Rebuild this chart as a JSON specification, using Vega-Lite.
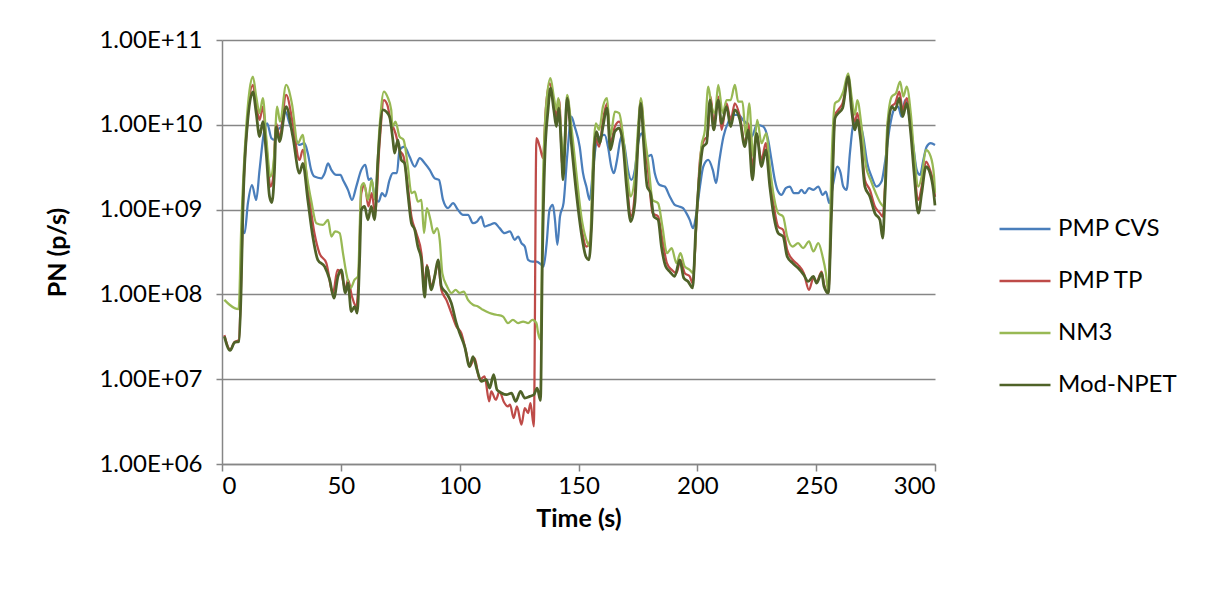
{
"$schema": "https://vega.github.io/schema/vega-lite/v6.json",
"width": 713, "height": 424,
"autosize": "none",
"padding": {"left": 222, "top": 40, "right": 273, "bottom": 125},
"background": "white",
"config": {"font": "Lato", "view": {"stroke": null}},
"datasets": {
"cvs": [{"t":8.1,"v":6.04e8},{"t":9.5,"v":5.27e8},{"t":10.9,"v":1.19e9},{"t":12.6,"v":1.95e9},{"t":14.4,"v":1.3e9},{"t":15.8,"v":2.94e9},{"t":17.6,"v":7.94e9},{"t":19,"v":1.04e10},{"t":20.8,"v":6.95e9},{"t":22.1,"v":6.64e9},{"t":23.5,"v":8.71e9},{"t":24.9,"v":9.53e9},{"t":26.7,"v":1.43e10},{"t":28.4,"v":1.04e10},{"t":30.5,"v":7.26e9},{"t":32.6,"v":5.79e9},{"t":34.7,"v":6.07e9},{"t":36.1,"v":4.62e9},{"t":37.5,"v":2.94e9},{"t":38.9,"v":2.45e9},{"t":41.8,"v":2.34e9},{"t":43.2,"v":2.69e9},{"t":44.6,"v":3.52e9},{"t":46,"v":2.94e9},{"t":48.1,"v":2.56e9},{"t":49.9,"v":2.56e9},{"t":50.9,"v":2.24e9},{"t":53,"v":1.71e9},{"t":54.7,"v":1.3e9},{"t":56.5,"v":1.87e9},{"t":58.6,"v":2.94e9},{"t":60.3,"v":3.37e9},{"t":61.7,"v":2.24e9},{"t":62.8,"v":2.34e9},{"t":64.2,"v":1.43e9},{"t":65.9,"v":1.24e9},{"t":67.3,"v":1.56e9},{"t":68.7,"v":1.43e9},{"t":70.5,"v":2.24e9},{"t":71.9,"v":2.69e9},{"t":73.6,"v":2.69e9},{"t":74.7,"v":5.06e9},{"t":76.8,"v":5.53e9},{"t":78.9,"v":4.22e9},{"t":81.1,"v":3.21e9},{"t":83.2,"v":4.04e9},{"t":85.3,"v":3.52e9},{"t":87.4,"v":2.94e9},{"t":89.5,"v":2.34e9},{"t":91.3,"v":2.24e9},{"t":93,"v":1.3e9},{"t":95.1,"v":1.04e9},{"t":97.2,"v":1.19e9},{"t":99.3,"v":9.93e8},{"t":101.4,"v":8.67e8},{"t":103.5,"v":8.67e8},{"t":105.6,"v":6.92e8},{"t":107.3,"v":7.23e8},{"t":109.1,"v":8.28e8},{"t":110.5,"v":6.31e8},{"t":112.6,"v":6.61e8},{"t":114.7,"v":6.92e8},{"t":116.8,"v":6.04e8},{"t":118.9,"v":5.27e8},{"t":121.1,"v":5.52e8},{"t":123.2,"v":4.4e8},{"t":124.6,"v":4.81e8},{"t":126,"v":4.02e8},{"t":127.4,"v":3.67e8},{"t":128.8,"v":2.56e8},{"t":130.6,"v":2.44e8},{"t":132.3,"v":2.44e8},{"t":134.4,"v":2.23e8},{"t":135.3,"v":2.13e8},{"t":136.6,"v":4.02e8},{"t":137.8,"v":9.93e8},{"t":139.2,"v":1.14e9},{"t":140.1,"v":7.57e8},{"t":141.1,"v":3.85e8},{"t":142.2,"v":8.28e8},{"t":143.7,"v":1.19e9},{"t":145.3,"v":4.47e9},{"t":147,"v":1.25e10},{"t":148.4,"v":9.53e9},{"t":150.5,"v":5.53e9},{"t":151.9,"v":2.69e9},{"t":153.3,"v":1.87e9},{"t":154.7,"v":1.3e9},{"t":156.1,"v":2.94e9},{"t":157.5,"v":6.07e9},{"t":159.2,"v":7.26e9},{"t":161,"v":7.6e9},{"t":162.4,"v":5.53e9},{"t":163.8,"v":3.21e9},{"t":164.9,"v":2.69e9},{"t":166.2,"v":3.85e9},{"t":168,"v":7.26e9},{"t":169.4,"v":5.53e9},{"t":170.8,"v":2.94e9},{"t":172.2,"v":2.24e9},{"t":173.7,"v":2.94e9},{"t":175.1,"v":6.07e9},{"t":176.5,"v":7.94e9},{"t":177.5,"v":6.64e9},{"t":178.9,"v":4.22e9},{"t":180.7,"v":4.42e9},{"t":182.1,"v":2.69e9},{"t":184.2,"v":1.95e9},{"t":186.3,"v":1.87e9},{"t":188.4,"v":1.43e9},{"t":190.5,"v":1.14e9},{"t":192.3,"v":1.09e9},{"t":194,"v":1.04e9},{"t":195.4,"v":9.08e8},{"t":196.8,"v":7.57e8},{"t":198.2,"v":6.04e8},{"t":199.6,"v":9.08e8},{"t":201.1,"v":1.87e9},{"t":202.5,"v":3.21e9},{"t":204.6,"v":3.85e9},{"t":206.5,"v":2.94e9},{"t":207.9,"v":2.05e9},{"t":209.3,"v":3.85e9},{"t":211,"v":7.26e9},{"t":213.1,"v":1.09e10},{"t":215.2,"v":1.31e10},{"t":217.4,"v":1.31e10},{"t":219.2,"v":1.14e10},{"t":221.1,"v":9.95e9},{"t":222.9,"v":7.26e9},{"t":225,"v":9.95e9},{"t":227.7,"v":9.53e9},{"t":229.8,"v":6.64e9},{"t":231.2,"v":3.85e9},{"t":232.6,"v":2.24e9},{"t":234,"v":1.63e9},{"t":235.4,"v":1.49e9},{"t":237.2,"v":1.79e9},{"t":238.9,"v":1.87e9},{"t":240.6,"v":1.56e9},{"t":242.4,"v":1.56e9},{"t":243.8,"v":1.71e9},{"t":245.2,"v":1.56e9},{"t":247,"v":1.79e9},{"t":248.8,"v":1.71e9},{"t":250.9,"v":1.87e9},{"t":252.7,"v":1.49e9},{"t":254.1,"v":1.63e9},{"t":255.5,"v":1.19e9},{"t":257.2,"v":2.05e9},{"t":258.9,"v":3.21e9},{"t":260.3,"v":2.69e9},{"t":261.4,"v":1.87e9},{"t":262.8,"v":1.71e9},{"t":264.2,"v":4.62e9},{"t":265.6,"v":9.95e9},{"t":267.7,"v":1.14e10},{"t":269.8,"v":7.26e9},{"t":271.5,"v":3.52e9},{"t":273.3,"v":2.45e9},{"t":275.4,"v":1.87e9},{"t":277.5,"v":2.14e9},{"t":278.9,"v":3.52e9},{"t":281,"v":9.53e9},{"t":282.7,"v":1.5e10},{"t":284.5,"v":1.64e10},{"t":285.9,"v":1.25e10},{"t":287.4,"v":1.96e10},{"t":289.2,"v":1.25e10},{"t":290.9,"v":5.53e9},{"t":292.3,"v":2.94e9},{"t":293.7,"v":2.56e9},{"t":295.1,"v":3.85e9},{"t":296.5,"v":5.53e9},{"t":298.2,"v":6.07e9},{"t":300,"v":5.79e9}],
"tp": [{"t":1,"v":3.31e7},{"t":3.4,"v":2.24e7},{"t":5.3,"v":2.75e7},{"t":7.1,"v":2.88e7},{"t":8,"v":1.26e8},{"t":8.8,"v":1.12e9},{"t":10.6,"v":1e10},{"t":13,"v":2.95e10},{"t":14.4,"v":1.71e10},{"t":15.8,"v":1.14e10},{"t":17.2,"v":1.64e10},{"t":18.6,"v":6.07e9},{"t":20.4,"v":1.87e9},{"t":21.4,"v":2.24e9},{"t":22.8,"v":1.04e10},{"t":24.2,"v":7.26e9},{"t":27,"v":2.25e10},{"t":29.8,"v":1.04e10},{"t":32.6,"v":3.85e9},{"t":34,"v":5.06e9},{"t":36.1,"v":1.87e9},{"t":38.9,"v":5.27e8},{"t":41,"v":3.07e8},{"t":43.9,"v":2.34e8},{"t":46.7,"v":1.04e8},{"t":48.6,"v":1.95e8},{"t":50.2,"v":1.78e8},{"t":51.9,"v":1.13e8},{"t":53,"v":1.49e8},{"t":54.7,"v":9.44e7},{"t":56.5,"v":7.19e7},{"t":57.5,"v":1.58e8},{"t":58.6,"v":1.56e9},{"t":60,"v":1.95e9},{"t":61.6,"v":1.09e9},{"t":63,"v":1.56e9},{"t":64.4,"v":9.08e8},{"t":66.3,"v":6.07e9},{"t":68.1,"v":1.96e10},{"t":69.6,"v":1.71e10},{"t":71.2,"v":1.04e10},{"t":71.9,"v":9.53e9},{"t":73,"v":7.94e9},{"t":74.7,"v":5.06e9},{"t":76.4,"v":4.22e9},{"t":78.2,"v":1.87e9},{"t":79.7,"v":8.28e8},{"t":81.8,"v":5.27e8},{"t":83.9,"v":3.07e8},{"t":85.3,"v":1.24e8},{"t":86.2,"v":2.23e8},{"t":88.1,"v":1.24e8},{"t":89.5,"v":1.63e8},{"t":90.9,"v":2.34e8},{"t":92.3,"v":1.13e8},{"t":94.4,"v":8.63e7},{"t":96.5,"v":6.03e7},{"t":98.6,"v":4.19e7},{"t":100.7,"v":3.5e7},{"t":102.8,"v":2.03e7},{"t":104.2,"v":1.41e7},{"t":106.3,"v":1.77e7},{"t":108.4,"v":9.86e6},{"t":110.5,"v":1.08e7},{"t":112.4,"v":5.47e6},{"t":113.3,"v":7.18e6},{"t":115.2,"v":5.73e6},{"t":116.8,"v":7.18e6},{"t":118.5,"v":5.47e6},{"t":120.3,"v":4.78e6},{"t":121.2,"v":5.01e6},{"t":122.7,"v":3.48e6},{"t":124.1,"v":4.78e6},{"t":126,"v":2.91e6},{"t":127.4,"v":4.57e6},{"t":128.8,"v":3.99e6},{"t":129.8,"v":5.24e6},{"t":131.2,"v":2.78e6},{"t":132.3,"v":6.95e9},{"t":133.7,"v":5.53e9},{"t":135.1,"v":4.04e9},{"t":136.2,"v":1.5e10},{"t":137.9,"v":3.09e10},{"t":139.6,"v":1.79e10},{"t":140.7,"v":1.25e10},{"t":141.9,"v":1.96e10},{"t":143.2,"v":3.21e9},{"t":144.4,"v":6.3e9},{"t":145.3,"v":2.15e10},{"t":147,"v":7.26e9},{"t":149.1,"v":1.87e9},{"t":151.2,"v":6.31e8},{"t":153.3,"v":3.67e8},{"t":155,"v":4.4e8},{"t":156.8,"v":7.26e9},{"t":158.7,"v":5.53e9},{"t":160.3,"v":1.14e10},{"t":162,"v":1.79e10},{"t":163.4,"v":6.07e9},{"t":165.3,"v":9.53e9},{"t":167.1,"v":1.09e10},{"t":168.8,"v":6.64e9},{"t":170.2,"v":2.45e9},{"t":172,"v":8.28e8},{"t":173.7,"v":1.56e9},{"t":175.1,"v":7.08e9},{"t":176.2,"v":1.96e10},{"t":177.9,"v":6.07e9},{"t":179.3,"v":2.81e9},{"t":181.2,"v":9.08e8},{"t":183.5,"v":8.28e8},{"t":185.3,"v":4.4e8},{"t":187.2,"v":2.34e8},{"t":189.2,"v":1.95e8},{"t":191.2,"v":1.78e8},{"t":192.9,"v":2.56e8},{"t":194.7,"v":1.78e8},{"t":196.8,"v":1.63e8},{"t":198,"v":1.36e8},{"t":199.7,"v":7.57e8},{"t":201.1,"v":3.85e9},{"t":202.8,"v":6.64e9},{"t":204.2,"v":7.26e9},{"t":205.6,"v":2.15e10},{"t":206.9,"v":1.04e10},{"t":208.8,"v":2.15e10},{"t":210.2,"v":8.71e9},{"t":212.3,"v":1.79e10},{"t":214,"v":1.14e10},{"t":215.8,"v":1.79e10},{"t":217.9,"v":1.25e10},{"t":220,"v":6.07e9},{"t":221.4,"v":1.04e10},{"t":223.2,"v":3.21e9},{"t":224.9,"v":7.94e9},{"t":227,"v":3.85e9},{"t":228.8,"v":6.07e9},{"t":230.5,"v":2.45e9},{"t":232.2,"v":1.09e9},{"t":234,"v":6.31e8},{"t":236.1,"v":5.77e8},{"t":237.8,"v":3.36e8},{"t":240.1,"v":2.56e8},{"t":242.4,"v":2.23e8},{"t":244.8,"v":1.78e8},{"t":247,"v":1.13e8},{"t":248.8,"v":1.55e8},{"t":250.2,"v":1.42e8},{"t":252.3,"v":1.86e8},{"t":253.3,"v":1.32e8},{"t":255.1,"v":1.04e8},{"t":256.5,"v":1.26e9},{"t":257.9,"v":1.31e10},{"t":259.3,"v":1.5e10},{"t":261.1,"v":1.79e10},{"t":263.5,"v":3.38e10},{"t":264.9,"v":1.64e10},{"t":266.3,"v":1.09e10},{"t":267.3,"v":1.37e10},{"t":268.7,"v":7.94e9},{"t":270.5,"v":2.24e9},{"t":272.6,"v":1.71e9},{"t":274.7,"v":1.09e9},{"t":276.8,"v":9.08e8},{"t":278,"v":8.28e8},{"t":279,"v":2e9},{"t":280.3,"v":1.14e10},{"t":281.8,"v":1.66e10},{"t":283.2,"v":1.79e10},{"t":285,"v":2.46e10},{"t":286.4,"v":1.5e10},{"t":288.1,"v":2.06e10},{"t":289.8,"v":9.53e9},{"t":291.2,"v":3.21e9},{"t":293,"v":1.3e9},{"t":294.4,"v":1.87e9},{"t":296.2,"v":3.68e9},{"t":297.9,"v":2.94e9},{"t":299.3,"v":2.05e9},{"t":300,"v":1.41e9}],
"nm3": [{"t":1,"v":8.63e7},{"t":3.2,"v":7.55e7},{"t":5.3,"v":6.89e7},{"t":7,"v":6.71e7},{"t":8.1,"v":6.31e8},{"t":10.2,"v":9.53e9},{"t":11.6,"v":2.58e10},{"t":13,"v":3.7e10},{"t":14.4,"v":2.15e10},{"t":15.8,"v":1.37e10},{"t":17.2,"v":2.06e10},{"t":18.6,"v":7.26e9},{"t":20.4,"v":2.45e9},{"t":21.8,"v":3.85e9},{"t":23.2,"v":1.64e10},{"t":24.4,"v":1.09e10},{"t":27,"v":2.95e10},{"t":29.4,"v":1.79e10},{"t":31.9,"v":6.07e9},{"t":34,"v":7.6e9},{"t":35.4,"v":2.94e9},{"t":37.5,"v":1.3e9},{"t":39.7,"v":6.92e8},{"t":42.5,"v":6.61e8},{"t":44.6,"v":7.57e8},{"t":46,"v":4.81e8},{"t":47.6,"v":5.52e8},{"t":49.5,"v":5.27e8},{"t":50.9,"v":3.07e8},{"t":52.3,"v":1.78e8},{"t":54.1,"v":1.19e8},{"t":55.8,"v":1.49e8},{"t":57.2,"v":1.63e8},{"t":58.6,"v":1.87e9},{"t":59.7,"v":2.05e9},{"t":61.4,"v":1.3e9},{"t":63,"v":2.24e9},{"t":64.4,"v":1.3e9},{"t":66.3,"v":9.53e9},{"t":68.1,"v":2.46e10},{"t":69.6,"v":2.15e10},{"t":71.2,"v":1.5e10},{"t":71.7,"v":9.53e9},{"t":73,"v":1.09e10},{"t":74.7,"v":7.26e9},{"t":76.4,"v":6.64e9},{"t":78.2,"v":3.21e9},{"t":79.7,"v":1.56e9},{"t":81.1,"v":1.63e9},{"t":82.4,"v":1.24e9},{"t":83.9,"v":1.3e9},{"t":85,"v":5.27e8},{"t":86.2,"v":1.04e9},{"t":87.7,"v":7.57e8},{"t":89,"v":5.27e8},{"t":90.5,"v":6.04e8},{"t":91.6,"v":4.4e8},{"t":92.7,"v":1.78e8},{"t":94.7,"v":1.24e8},{"t":96.5,"v":1.04e8},{"t":98.3,"v":1.13e8},{"t":100,"v":1.04e8},{"t":101.7,"v":1.08e8},{"t":103.5,"v":8.63e7},{"t":105.6,"v":7.55e7},{"t":107.7,"v":7.21e7},{"t":109.8,"v":6.58e7},{"t":112.6,"v":6.03e7},{"t":115.4,"v":5.75e7},{"t":118.2,"v":5.5e7},{"t":120.3,"v":4.59e7},{"t":122.4,"v":5.01e7},{"t":124.6,"v":4.59e7},{"t":126.7,"v":4.79e7},{"t":128.8,"v":4.59e7},{"t":130.6,"v":5.01e7},{"t":132.3,"v":4.59e7},{"t":133,"v":3.5e7},{"t":134,"v":2.92e7},{"t":135.1,"v":2.45e9},{"t":136.6,"v":1.96e10},{"t":138.2,"v":3.54e10},{"t":139.6,"v":2.15e10},{"t":140.7,"v":1.5e10},{"t":141.5,"v":2.06e10},{"t":142.8,"v":7.26e9},{"t":143.7,"v":3.85e9},{"t":145.2,"v":2.25e10},{"t":147,"v":9.53e9},{"t":149.1,"v":2.69e9},{"t":151.2,"v":8.28e8},{"t":153.3,"v":4.4e8},{"t":154.7,"v":3.67e8},{"t":156.1,"v":3.85e9},{"t":157.3,"v":1.04e10},{"t":158.7,"v":8.71e9},{"t":160.3,"v":1.64e10},{"t":162,"v":2.06e10},{"t":163.4,"v":7.26e9},{"t":165.3,"v":1.43e10},{"t":167.1,"v":1.37e10},{"t":168.8,"v":7.26e9},{"t":170.2,"v":3.21e9},{"t":171.9,"v":1.43e9},{"t":173.7,"v":2.45e9},{"t":175.1,"v":9.53e9},{"t":176.2,"v":2.06e10},{"t":177.9,"v":7.26e9},{"t":179.3,"v":3.68e9},{"t":181.2,"v":1.3e9},{"t":183.5,"v":1.19e9},{"t":185.3,"v":6.31e8},{"t":187.2,"v":3.07e8},{"t":189.2,"v":3.52e8},{"t":191.2,"v":2.34e8},{"t":192.9,"v":3.07e8},{"t":194.7,"v":2.13e8},{"t":196.8,"v":1.95e8},{"t":198.2,"v":1.78e8},{"t":199.9,"v":9.93e8},{"t":201.7,"v":5.53e9},{"t":203.2,"v":8.71e9},{"t":204.6,"v":2.82e10},{"t":206,"v":1.64e10},{"t":207.4,"v":1.37e10},{"t":208.8,"v":2.95e10},{"t":210.7,"v":1.37e10},{"t":212.3,"v":1.96e10},{"t":214,"v":1.96e10},{"t":215.8,"v":2.95e10},{"t":217.2,"v":1.87e10},{"t":219,"v":1.87e10},{"t":220.4,"v":7.26e9},{"t":221.8,"v":1.79e10},{"t":223.5,"v":4.22e9},{"t":225.2,"v":1.14e10},{"t":227,"v":6.07e9},{"t":229,"v":7.94e9},{"t":230.5,"v":3.21e9},{"t":232.2,"v":1.43e9},{"t":234,"v":9.08e8},{"t":236.1,"v":8.28e8},{"t":237.8,"v":4.81e8},{"t":240.1,"v":3.67e8},{"t":242.4,"v":4.02e8},{"t":244.5,"v":3.52e8},{"t":247,"v":4.21e8},{"t":248.8,"v":3.21e8},{"t":250.9,"v":4.02e8},{"t":252.7,"v":2.8e8},{"t":254.1,"v":1.78e8},{"t":255.1,"v":1.04e8},{"t":256.5,"v":3.85e9},{"t":257.9,"v":1.79e10},{"t":259.7,"v":1.96e10},{"t":261.4,"v":2.46e10},{"t":263.5,"v":4.05e10},{"t":264.9,"v":2.15e10},{"t":266.3,"v":1.31e10},{"t":267.3,"v":1.96e10},{"t":269.1,"v":9.53e9},{"t":271,"v":3.21e9},{"t":272.9,"v":2.24e9},{"t":275.1,"v":1.56e9},{"t":277.1,"v":1.19e9},{"t":278.5,"v":1.09e9},{"t":279.9,"v":9.53e9},{"t":281.8,"v":2.15e10},{"t":283.6,"v":2.36e10},{"t":285.3,"v":3.23e10},{"t":286.7,"v":2.15e10},{"t":288.1,"v":2.82e10},{"t":289.8,"v":1.37e10},{"t":291.2,"v":4.62e9},{"t":293,"v":1.87e9},{"t":294.4,"v":2.45e9},{"t":296.2,"v":5.06e9},{"t":298.2,"v":4.22e9},{"t":299.6,"v":2.45e9},{"t":300,"v":1.58e9}],
"npet": [{"t":1,"v":3.2e7},{"t":3.4,"v":2.18e7},{"t":5.3,"v":2.71e7},{"t":7.1,"v":2.79e7},{"t":8,"v":1e8},{"t":8.8,"v":9.93e8},{"t":10.6,"v":9.53e9},{"t":13,"v":2.45e10},{"t":14.4,"v":1.37e10},{"t":15.8,"v":7.26e9},{"t":17.2,"v":1.09e10},{"t":18.6,"v":4.62e9},{"t":20,"v":1.43e9},{"t":21,"v":1.21e9},{"t":22.1,"v":2.94e9},{"t":22.8,"v":9.53e9},{"t":24.2,"v":6.34e9},{"t":27,"v":1.64e10},{"t":29.8,"v":7.26e9},{"t":32.6,"v":2.69e9},{"t":34,"v":3.52e9},{"t":36.1,"v":1.3e9},{"t":38.2,"v":4.81e8},{"t":40.3,"v":2.56e8},{"t":43.2,"v":2.13e8},{"t":45.3,"v":1.49e8},{"t":47.1,"v":9.04e7},{"t":48.8,"v":1.63e8},{"t":50.2,"v":1.95e8},{"t":51.9,"v":1.04e8},{"t":53,"v":1.36e8},{"t":54.4,"v":6.28e7},{"t":55.8,"v":7.19e7},{"t":56.9,"v":6.03e7},{"t":57.9,"v":2.56e8},{"t":58.6,"v":9.93e8},{"t":60,"v":1.09e9},{"t":61.4,"v":7.57e8},{"t":62.8,"v":1.09e9},{"t":64.2,"v":7.57e8},{"t":65.6,"v":3.85e9},{"t":67.7,"v":1.5e10},{"t":69.1,"v":1.43e10},{"t":70.5,"v":1.25e10},{"t":71.9,"v":6.64e9},{"t":72.6,"v":4.62e9},{"t":74,"v":6.64e9},{"t":75.4,"v":3.85e9},{"t":76.8,"v":3.52e9},{"t":78.2,"v":1.56e9},{"t":79.7,"v":6.92e8},{"t":81.1,"v":5.77e8},{"t":82.4,"v":3.67e8},{"t":83.9,"v":2.56e8},{"t":85.3,"v":9.29e7},{"t":86.2,"v":2.13e8},{"t":88.1,"v":1.13e8},{"t":89.5,"v":1.63e8},{"t":90.9,"v":2.56e8},{"t":92.3,"v":1.24e8},{"t":94.4,"v":1.04e8},{"t":96.5,"v":7.89e7},{"t":98.6,"v":4.58e7},{"t":100,"v":3.5e7},{"t":102.1,"v":2.43e7},{"t":104.2,"v":1.41e7},{"t":105.6,"v":1.85e7},{"t":107.3,"v":1.29e7},{"t":109.1,"v":9.42e6},{"t":111.2,"v":9.86e6},{"t":112.6,"v":7.87e6},{"t":114.3,"v":1.13e7},{"t":115.7,"v":7.52e6},{"t":117.6,"v":6.87e6},{"t":119.7,"v":6.56e6},{"t":121.8,"v":6.87e6},{"t":123.6,"v":5.47e6},{"t":125.6,"v":7.18e6},{"t":127.4,"v":6e6},{"t":129.5,"v":6.27e6},{"t":131.2,"v":6.56e6},{"t":132.6,"v":7.87e6},{"t":134,"v":5.62e6},{"t":134.8,"v":2.56e8},{"t":135.8,"v":3.85e9},{"t":137.2,"v":1.5e10},{"t":138.2,"v":2.7e10},{"t":139.6,"v":1.5e10},{"t":140.7,"v":9.53e9},{"t":141.7,"v":1.57e10},{"t":142.8,"v":5.06e9},{"t":143.5,"v":2.24e9},{"t":145.2,"v":2.06e10},{"t":147,"v":6.07e9},{"t":149.1,"v":1.56e9},{"t":151.2,"v":5.27e8},{"t":153.1,"v":2.8e8},{"t":154.4,"v":2.56e8},{"t":155.5,"v":6.31e8},{"t":156.8,"v":6.07e9},{"t":157.6,"v":8.32e9},{"t":159,"v":6.07e9},{"t":160.3,"v":9.53e9},{"t":162,"v":1.57e10},{"t":163.4,"v":5.06e9},{"t":165.3,"v":8.32e9},{"t":167.1,"v":9.12e9},{"t":168.8,"v":5.53e9},{"t":170.2,"v":1.87e9},{"t":172,"v":7.23e8},{"t":173.7,"v":1.19e9},{"t":175.1,"v":6.64e9},{"t":176.2,"v":1.79e10},{"t":177.5,"v":5.53e9},{"t":178.9,"v":1.87e9},{"t":180.3,"v":1.56e9},{"t":181.7,"v":8.28e8},{"t":183.5,"v":7.57e8},{"t":184.9,"v":3.67e8},{"t":186.7,"v":2.13e8},{"t":188.4,"v":1.86e8},{"t":190.5,"v":1.63e8},{"t":192.6,"v":2.56e8},{"t":194.3,"v":1.56e8},{"t":196.1,"v":1.42e8},{"t":198,"v":1.19e8},{"t":199.4,"v":6.31e8},{"t":201.1,"v":2.94e9},{"t":202.4,"v":5.53e9},{"t":203.9,"v":6.07e9},{"t":205.3,"v":1.96e10},{"t":206.9,"v":8.71e9},{"t":208.8,"v":1.96e10},{"t":210.2,"v":1.04e10},{"t":212.3,"v":1.64e10},{"t":214,"v":9.53e9},{"t":215.8,"v":1.5e10},{"t":217.9,"v":1.14e10},{"t":220,"v":5.53e9},{"t":221.4,"v":8.71e9},{"t":223.2,"v":2.24e9},{"t":224.9,"v":7.94e9},{"t":227,"v":3.21e9},{"t":228.8,"v":5.06e9},{"t":230.5,"v":1.87e9},{"t":232.2,"v":8.28e8},{"t":234,"v":5.27e8},{"t":236.1,"v":4.81e8},{"t":237.8,"v":2.8e8},{"t":240.1,"v":2.34e8},{"t":242.4,"v":2.04e8},{"t":244.8,"v":1.7e8},{"t":246.6,"v":1.42e8},{"t":248.8,"v":1.63e8},{"t":250.2,"v":1.36e8},{"t":252.3,"v":1.78e8},{"t":253.3,"v":1.24e8},{"t":255.1,"v":1.04e8},{"t":256.5,"v":9.93e8},{"t":257.9,"v":1.19e10},{"t":259.3,"v":1.37e10},{"t":261.1,"v":1.57e10},{"t":263.5,"v":3.7e10},{"t":264.9,"v":1.5e10},{"t":266.3,"v":8.71e9},{"t":267.3,"v":1.14e10},{"t":268.7,"v":6.64e9},{"t":270.5,"v":1.87e9},{"t":272.6,"v":1.43e9},{"t":274.7,"v":9.08e8},{"t":276.8,"v":7.57e8},{"t":278,"v":4.6e8},{"t":279,"v":1.56e9},{"t":280.3,"v":9.53e9},{"t":281.8,"v":1.64e10},{"t":283.2,"v":1.5e10},{"t":285,"v":2.06e10},{"t":286.4,"v":1.25e10},{"t":288.1,"v":1.79e10},{"t":289.8,"v":7.94e9},{"t":291.2,"v":2.69e9},{"t":293,"v":9.08e8},{"t":294.4,"v":1.56e9},{"t":296.2,"v":3.21e9},{"t":297.9,"v":2.69e9},{"t":299.3,"v":1.71e9},{"t":300,"v":1.12e9}]
},
"encoding": {
  "x": {"field": "t", "type": "quantitative",
        "scale": {"domain": [0, 300], "nice": false, "zero": false},
        "axis": {"values": [0, 50, 100, 150, 200, 250, 300], "title": "Time (s)", "grid": false,
                 "domainColor": "#868686", "domainWidth": 1.5, "tickColor": "#868686", "tickWidth": 1.5, "tickSize": 7,
                 "labelFontSize": 24, "labelColor": "#000000", "labelPadding": 3, "labelFont": "Lato",
                 "titleFontSize": 25, "titleFontWeight": "bold", "titleColor": "#000000", "titlePadding": 8, "titleFont": "Lato"}},
  "y": {"field": "v", "type": "quantitative",
        "scale": {"type": "log", "domain": [1e6, 1e11], "nice": false},
        "axis": {"values": [1e6, 1e7, 1e8, 1e9, 1e10, 1e11], "title": "PN (p/s)", "grid": true,
                 "gridColor": "#868686", "gridWidth": 1.5,
                 "labelExpr": "'1.00E+' + (datum.value < 1e10 ? '0' : '') + format(log(datum.value)/LN10, '.0f')",
                 "domainColor": "#868686", "domainWidth": 1.5, "tickColor": "#868686", "tickWidth": 1.5, "tickSize": 6,
                 "labelFontSize": 24, "labelColor": "#000000", "labelPadding": 14, "labelFont": "Lato",
                 "titleFontSize": 25, "titleFontWeight": "bold", "titleColor": "#000000", "titlePadding": 28, "titleFont": "Lato"}},
  "color": {"scale": {"domain": ["PMP CVS", "PMP TP", "NM3", "Mod-NPET"], "range": ["#4A7EBB", "#BE4B48", "#98B954", "#4F6228"]},
            "legend": {"title": null, "orient": "none", "legendX": 776, "legendY": 162,
                       "symbolType": "stroke", "symbolSize": 2600, "symbolStrokeWidth": 2.5,
                       "labelFontSize": 24, "labelColor": "#000000", "labelOffset": 6, "labelFont": "Lato",
                       "rowPadding": 13}}
},
"layer": [
  {"data": {"name": "cvs"}, "mark": {"type": "line", "strokeWidth": 2.25, "interpolate": "monotone"}, "encoding": {"color": {"datum": "PMP CVS"}}},
  {"data": {"name": "tp"}, "mark": {"type": "line", "strokeWidth": 2.25, "interpolate": "monotone"}, "encoding": {"color": {"datum": "PMP TP"}}},
  {"data": {"name": "nm3"}, "mark": {"type": "line", "strokeWidth": 2.25, "interpolate": "monotone"}, "encoding": {"color": {"datum": "NM3"}}},
  {"data": {"name": "npet"}, "mark": {"type": "line", "strokeWidth": 2.75, "interpolate": "monotone"}, "encoding": {"color": {"datum": "Mod-NPET"}}}
]
}
